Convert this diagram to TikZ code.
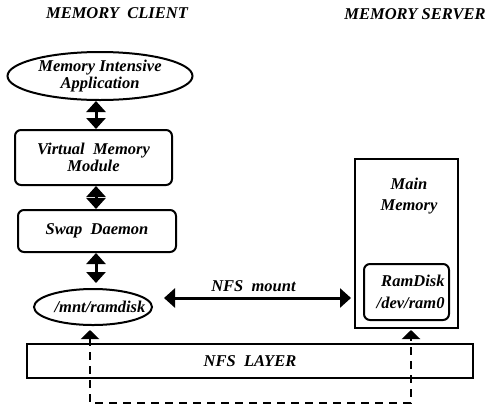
\documentclass[tikz,border=0pt]{standalone}
\usepackage{fontspec}
\setmainfont{Liberation Serif}
\usepackage{tikz}
\usetikzlibrary{
  arrows.meta,
  positioning,
  shapes.geometric
}

\begin{document}
\begin{tikzpicture}[x=1pt,y=-1pt,
  every node/.style={font=\fontsize{16.5}{17.5}\selectfont\bfseries\itshape,align=center},
  blk/.style={draw,line width=2pt,rounded corners=6pt,inner sep=0pt},
  oval/.style={draw,ellipse,line width=2pt,inner sep=0pt},
  plain/.style={draw,line width=2pt,inner sep=0pt},
  dbl/.style={line width=3pt,{Triangle[width=19pt,length=11pt]}-{Triangle[width=19pt,length=11pt]}},
  dsh/.style={line width=2.6pt,dash pattern=on 8pt off 6pt,{Triangle[width=18pt,length=9pt]}-{Triangle[width=18pt,length=9pt]}}]
  \useasboundingbox (0,0) rectangle (489,408);

  \node (client) at (117,13) {MEMORY~~CLIENT};
  \node (server) at (415,14) {MEMORY SERVER};

  \node[oval,minimum width=185pt,minimum height=48pt] (app) at (100,76) {Memory Intensive\\Application};
  \node[blk,minimum width=157pt,minimum height=55pt] (vmm) at (93.5,157.5) {Virtual~~Memory\\Module};
  \node[blk,minimum width=158pt,minimum height=42pt] (swap) at (97,231) {Swap~~Daemon};
  \node[oval,minimum width=118pt,minimum height=36pt,
        label={[xshift=7pt]center:/mnt/ramdisk}] (mnt) at (93,307) {};

  \node[plain,minimum width=103pt,minimum height=169pt] (mem) at (406.5,243.5) {};
  \node (memtxt) at (409,196) {Main\\[3pt]Memory};
  \node[blk,minimum width=85pt,minimum height=56pt,text width=76pt,align=right] (ramdisk) at (406.5,292) {RamDisk\\[4pt]/dev/ram0};

  \node[plain,minimum width=446pt,minimum height=34pt] (nfs) at (250,361) {NFS~~LAYER};

  \coordinate (col) at (96,0);
  \draw[dbl] (app.south -| col) -- (vmm.north -| col);
  \draw[dbl] (vmm.south -| col) -- (swap.north -| col);
  \draw[dbl,shorten >=5pt] (swap.south -| col) -- (mnt.north -| col);

  \coordinate (mnty) at (0,298);
  \draw[dbl,shorten <=11pt,shorten >=3pt] (mnt.east |- mnty) -- (mem.west |- mnty)
    node[midway,above=1pt] {NFS~~mount};

  \coordinate (lbot) at (90,403);
  \coordinate (rbot) at (411,403);
  \draw[dsh,shorten <=4pt,shorten >=1pt] (lbot |- mnt.south) -- (lbot) -- (rbot) -- (rbot |- mem.south);
\end{tikzpicture}
\end{document}
